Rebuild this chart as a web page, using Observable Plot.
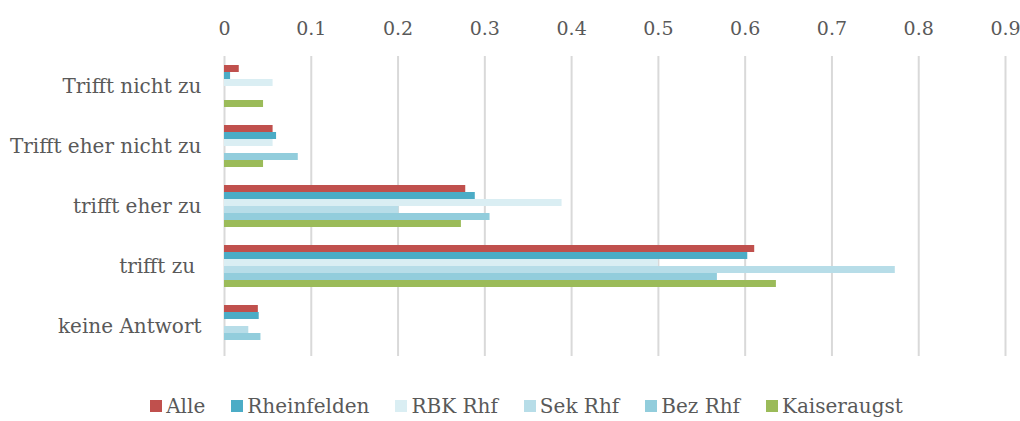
<!DOCTYPE html>
<html>
<head>
<meta charset="utf-8">
<script src="https://cdn.jsdelivr.net/npm/d3@7"></script>
<script src="https://cdn.jsdelivr.net/npm/@observablehq/plot@0.6"></script>
<style>
  html, body { margin: 0; padding: 0; background: white; }
  #chart { width: 1020px; }
  #chart g[aria-label^="fy-axis"] { font-size: 20px; }
  .legend { display: flex; justify-content: center; align-items: center; gap: 26px; padding-left: 33px;
    font-family: "DejaVu Serif", serif; font-size: 20px; color: #595959; height: 31px; }
  .legend span.item { display: flex; align-items: center; gap: 4px; }
  .legend span.sw { display: inline-block; width: 12px; height: 12px; }
</style>
</head>
<body>
<div id="chart"></div>
<script>
const categories = ["Trifft nicht zu", "Trifft eher nicht zu", "trifft eher zu", "trifft zu ", "keine Antwort"];
const seriesNames = ["Alle", "Rheinfelden", "RBK Rhf", "Sek Rhf", "Bez Rhf", "Kaiseraugst"];
const colors = ["#C0504D", "#4BACC6", "#DAEEF3", "#B7DDE8", "#92CDDC", "#9BBB59"];
const xTicks = [0, 0.1, 0.2, 0.3, 0.4, 0.5, 0.6, 0.7, 0.8, 0.9];

const alle        = [0.017, 0.056, 0.278, 0.611, 0.039];
const rheinfelden = [0.007, 0.060, 0.289, 0.603, 0.040];
const rbkRhf      = [0.056, 0.056, 0.389, 0.500, 0.000];
const sekRhf      = [0.000, 0.000, 0.201, 0.773, 0.028];
const bezRhf      = [0.000, 0.085, 0.306, 0.568, 0.042];
const kaiseraugst = [0.045, 0.045, 0.273, 0.636, 0.000];

const seriesValues = [alle, rheinfelden, rbkRhf, sekRhf, bezRhf, kaiseraugst];
const data = [];
categories.forEach((c, i) => {
  seriesNames.forEach((s, j) => data.push({category: c, series: s, value: seriesValues[j][i]}));
});

const plot = Plot.plot({
  width: 1020,
  height: 390,
  marginLeft: 224,
  marginRight: 15,
  marginTop: 54,
  marginBottom: 32,
  style: {fontFamily: "DejaVu Serif, serif", fontSize: "19px", color: "#595959", background: "white"},
  x: {domain: [0, 0.9], axis: "top", ticks: xTicks, tickSize: 0, tickPadding: 22, label: null, tickFormat: d => String(d)},
  y: {domain: seriesNames, axis: null, paddingInner: 0.04, paddingOuter: 0.95},
  fy: {domain: categories, padding: 0, axis: "left", label: null, tickSize: 0, tickPadding: 23},
  color: {domain: seriesNames, range: colors},
  marks: [
    Plot.ruleX(xTicks, {x: d => d, stroke: "#d9d9d9", strokeWidth: 2}),
    Plot.barX(data, {x: "value", y: "series", fy: "category", fill: "series"})
  ]
});
document.getElementById("chart").appendChild(plot);

const legend = document.createElement("div");
legend.className = "legend";
seriesNames.forEach((s, i) => {
  const item = document.createElement("span");
  item.className = "item";
  const sw = document.createElement("span");
  sw.className = "sw";
  sw.style.background = colors[i];
  const t = document.createElement("span");
  t.textContent = s;
  item.appendChild(sw);
  item.appendChild(t);
  legend.appendChild(item);
});
document.getElementById("chart").appendChild(legend);
</script>
</body>
</html>
